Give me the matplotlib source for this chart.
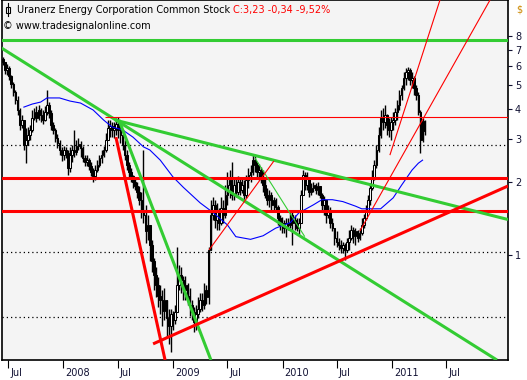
import numpy as np
import pandas as pd
import matplotlib
matplotlib.use("Agg")
import matplotlib.pyplot as plt
import matplotlib.dates as mdates
from matplotlib.patches import Rectangle
from matplotlib.lines import Line2D

# weekly candles, Uranerz Energy (URZ), from mid June 2007
first_week = "2007-06-13"
first_open = 6.45
closes = [
    6.24, 5.79, 5.90, 5.47, 5.07, 4.70, 4.35, 3.96, 3.43, 3.60,
    2.84, 2.98, 3.12, 3.28, 3.67, 3.89, 3.67, 3.96, 3.78, 3.60,
    3.89, 4.15, 3.85, 3.43, 3.28, 3.04, 2.89, 2.71, 2.58, 2.71,
    2.63, 2.28, 2.58, 2.71, 2.65, 2.81, 2.87, 2.76, 2.51, 2.42,
    2.46, 2.33, 2.20, 2.12, 2.24, 2.35, 2.51, 2.58, 2.71, 2.98,
    3.34, 3.40, 3.28, 3.34, 3.47, 3.28, 3.12, 2.84, 2.58, 2.35,
    2.20, 2.12, 2.00, 1.92, 1.82, 1.69, 1.53, 1.46, 1.25, 1.33,
    1.10, 0.94, 0.83, 0.75, 0.68, 0.65, 0.59, 0.65, 0.55, 0.51,
    0.57, 0.54, 0.58, 0.75, 0.83, 0.79, 0.72, 0.75, 0.68, 0.62,
    0.58, 0.53, 0.57, 0.60, 0.65, 0.62, 0.72, 0.67, 1.05, 1.46,
    1.61, 1.39, 1.50, 1.36, 1.56, 1.46, 1.77, 1.94, 2.04, 1.77,
    1.94, 1.82, 2.00, 1.85, 1.94, 1.77, 2.04, 2.14, 2.20, 2.46,
    2.35, 2.20, 2.24, 2.08, 1.94, 1.77, 1.69, 1.77, 1.61, 1.69,
    1.58, 1.42, 1.33, 1.36, 1.29, 1.36, 1.33, 1.46, 1.36, 1.39,
    1.29, 1.36, 1.77, 2.14, 1.94, 2.08, 1.82, 1.88, 1.94, 1.85,
    1.92, 1.77, 1.61, 1.69, 1.46, 1.53, 1.36, 1.29, 1.17, 1.13,
    1.10, 1.07, 1.10, 1.05, 1.13, 1.17, 1.27, 1.20, 1.25, 1.17,
    1.23, 1.33, 1.42, 1.53, 1.69, 1.89, 2.08, 2.35, 2.71, 3.12,
    3.67, 3.53, 3.78, 3.43, 3.28, 3.53, 3.60, 3.89, 4.15, 4.57,
    4.88, 5.36, 5.68, 5.79, 5.27, 5.36, 4.88, 4.57, 3.89, 2.98,
    3.57, 3.23]
highs = [
    6.54, 6.24, 6.13, 6.01, 5.52, 5.17, 4.79, 4.53, 4.04, 3.78,
    3.60, 3.34, 3.37, 3.43, 3.96, 4.04, 4.11, 4.15, 4.04, 3.96,
    4.11, 4.79, 4.27, 3.96, 3.53, 3.34, 3.16, 2.98, 2.79, 2.81,
    2.79, 2.71, 2.79, 2.84, 3.28, 2.98, 3.04, 2.95, 2.81, 2.58,
    2.58, 2.51, 2.42, 2.28, 2.35, 2.46, 2.58, 2.71, 2.81, 3.19,
    3.60, 3.60, 3.53, 3.53, 3.67, 3.70, 3.43, 3.28, 2.98, 2.71,
    2.42, 2.28, 2.14, 2.08, 2.00, 1.92, 1.82, 2.71, 1.61, 1.46,
    1.33, 1.15, 0.97, 0.89, 0.81, 0.75, 0.72, 0.73, 0.63, 0.60,
    0.60, 0.59, 0.62, 1.08, 0.91, 0.89, 0.82, 0.82, 0.77, 0.73,
    0.65, 0.61, 0.62, 0.67, 0.70, 0.70, 0.77, 0.75, 1.08, 1.69,
    1.74, 1.69, 1.64, 1.56, 1.74, 1.69, 1.94, 2.20, 2.24, 2.42,
    2.10, 2.08, 2.12, 2.08, 2.08, 2.04, 2.14, 2.28, 2.35, 2.58,
    2.58, 2.42, 2.37, 2.31, 2.24, 2.08, 1.89, 1.85, 1.82, 1.74,
    1.72, 1.61, 1.46, 1.44, 1.39, 1.42, 1.42, 1.53, 1.50, 1.46,
    1.42, 1.42, 1.85, 2.24, 2.20, 2.20, 2.04, 1.98, 2.00, 1.98,
    2.00, 1.92, 1.80, 1.75, 1.69, 1.61, 1.58, 1.42, 1.29, 1.25,
    1.17, 1.15, 1.13, 1.12, 1.17, 1.27, 1.33, 1.30, 1.29, 1.27,
    1.29, 1.42, 1.47, 1.61, 1.77, 1.98, 2.24, 2.46, 2.84, 3.37,
    3.96, 4.04, 4.15, 3.82, 3.67, 3.70, 3.89, 4.04, 4.35, 4.79,
    5.02, 5.68, 5.90, 5.96, 5.90, 5.68, 5.47, 5.02, 4.70, 3.96,
    3.67, 3.60]
lows = [
    6.07, 5.57, 5.52, 5.27, 4.88, 4.53, 4.19, 3.78, 3.28, 3.34,
    2.71, 2.39, 2.84, 2.98, 3.22, 3.60, 3.53, 3.60, 3.53, 3.47,
    3.57, 3.78, 3.67, 3.28, 3.16, 2.92, 2.76, 2.58, 2.44, 2.46,
    2.51, 2.14, 2.20, 2.42, 2.53, 2.58, 2.71, 2.53, 2.42, 2.33,
    2.33, 2.24, 2.12, 2.00, 2.04, 2.20, 2.31, 2.39, 2.53, 2.66,
    2.98, 3.06, 3.06, 3.04, 3.12, 3.04, 2.89, 2.71, 2.46, 2.24,
    2.08, 2.00, 1.89, 1.85, 1.72, 1.60, 1.42, 1.36, 1.12, 1.15,
    0.94, 0.85, 0.72, 0.67, 0.61, 0.57, 0.51, 0.54, 0.46, 0.43,
    0.40, 0.49, 0.52, 0.58, 0.72, 0.70, 0.65, 0.65, 0.62, 0.56,
    0.54, 0.48, 0.49, 0.55, 0.58, 0.59, 0.60, 0.63, 0.63, 1.05,
    1.39, 1.29, 1.27, 1.27, 1.33, 1.36, 1.42, 1.61, 1.72, 1.69,
    1.69, 1.74, 1.77, 1.77, 1.80, 1.69, 1.72, 1.89, 2.00, 2.14,
    2.20, 2.10, 2.04, 1.98, 1.82, 1.72, 1.61, 1.58, 1.53, 1.53,
    1.50, 1.33, 1.27, 1.23, 1.23, 1.19, 1.27, 1.29, 1.10, 1.27,
    1.25, 1.21, 1.36, 1.77, 1.85, 1.85, 1.74, 1.77, 1.82, 1.78,
    1.77, 1.72, 1.53, 1.46, 1.35, 1.42, 1.29, 1.25, 1.10, 1.08,
    1.05, 1.02, 1.02, 0.95, 1.03, 1.05, 1.15, 1.12, 1.10, 1.13,
    1.15, 1.21, 1.29, 1.39, 1.53, 1.61, 1.85, 2.04, 2.28, 2.66,
    3.04, 3.28, 3.34, 3.12, 3.06, 2.98, 3.28, 3.43, 3.60, 3.96,
    4.35, 4.79, 5.02, 5.27, 5.02, 4.88, 4.57, 4.35, 3.78, 2.63,
    2.92, 3.12]

# moving average (blue), read at some candle weeks
ma_week = [10, 14, 18, 21, 27, 32, 37, 43, 48, 52, 57, 62, 67, 70, 75, 81, 86, 94, 100,
           107, 111, 118, 124, 130, 137, 141, 148, 152, 157, 162, 168, 171, 180, 186,
           190, 195, 198, 200]
ma_vals = [4.07, 4.19, 4.27, 4.44, 4.44, 4.31, 4.23, 3.96, 3.60, 3.37, 3.28, 3.06, 2.79,
           2.71, 2.46, 2.10, 1.90, 1.64, 1.50, 1.33, 1.19, 1.16, 1.20, 1.29, 1.36, 1.49,
           1.61, 1.69, 1.69, 1.66, 1.59, 1.55, 1.55, 1.72, 1.94, 2.24, 2.39, 2.46]

# drawn analysis lines: (start date, start price, end date, end price)
green_thick = [("2007-06-03", 7.20, "2011-12-17", 0.369),
               ("2008-06-21", 3.60, "2012-01-23", 1.40),
               ("2008-07-04", 3.60, "2009-05-07", 0.369)]
green_thin = [("2009-10-01", 2.51, "2010-03-16", 1.19)]
red_thick = [("2008-06-24", 3.06, "2008-12-05", 0.369),
             ("2008-10-26", 0.430, "2012-01-23", 1.925)]
red_thin = [("2008-05-18", 3.71, "2012-01-23", 3.71),
            ("2009-05-01", 1.05, "2009-12-03", 2.44),
            ("2010-09-16", 1.256, "2011-11-24", 11.25),
            ("2010-12-25", 2.58, "2011-06-10", 11.25)]
green_levels = [7.70]
red_levels = [2.08, 1.52]
dotted_levels = [2.84, 1.03, 0.555]

y_ticks = [1, 2, 3, 4, 5, 6, 7, 8]
x_ticks = ["2007-07-01", "2008-01-01", "2008-07-01", "2009-01-01", "2009-07-01",
           "2010-01-01", "2010-07-01", "2011-01-01", "2011-07-01"]
x_labels = ["Jul", "2008", "Jul", "2009", "Jul", "2010", "Jul", "2011", "Jul"]

GREEN = "#33cc33"
TXT = "#111133"
W, H = 527, 380

fig = plt.figure(figsize=(W / 100, H / 100), dpi=100)
fig.patch.set_facecolor("white")
ax = fig.add_axes([2 / W, 20 / H, 506 / W, 360 / H])
ax.set_facecolor("#f4f4f4")
ax.set_yscale("log")
ax.set_ylim(0.369, 11.25)
ax.set_xlim(mdates.date2num(pd.Timestamp("2007-06-10")), mdates.date2num(pd.Timestamp("2012-01-23")))

dates = pd.date_range(first_week, periods=len(closes), freq="7D")
xs = mdates.date2num(dates)
c = np.array(closes)
o = np.array([first_open] + closes[:-1])
hi = np.maximum(np.array(highs), np.maximum(o, c))
lo = np.minimum(np.array(lows), np.minimum(o, c))

for val in dotted_levels:
    ax.axhline(val, color="black", lw=0.9, ls=(0, (1, 2.4)), zorder=1)

ax.vlines(xs, lo, hi, color="black", lw=1.0, zorder=3)
up = c >= o
ax.bar(xs[up], (c - o)[up], bottom=o[up], width=5.4, color="white", edgecolor="black", lw=0.75, zorder=4)
ax.bar(xs[~up], (o - c)[~up], bottom=c[~up], width=5.4, color="black", edgecolor="black", lw=0.75, zorder=4)

ax.plot(xs[ma_week], ma_vals, color="#0000ff", lw=0.8, zorder=5)


def draw_lines(lines, color, lw):
    for d0, p0, d1, p1 in lines:
        ax.plot([pd.Timestamp(d0), pd.Timestamp(d1)], [p0, p1], color=color, lw=lw,
                solid_capstyle="butt", zorder=6)


for val in green_levels:
    ax.axhline(val, color=GREEN, lw=2.2, zorder=6)
for val in red_levels:
    ax.axhline(val, color="red", lw=2.2, zorder=6)
draw_lines(green_thick, GREEN, 2.2)
draw_lines(green_thin, GREEN, 0.8)
draw_lines(red_thick, "red", 2.2)
draw_lines(red_thin, "red", 0.8)

# axes
for s in ax.spines.values():
    s.set_color("black")
    s.set_linewidth(1.2)
ax.yaxis.tick_right()
ax.set_yticks(y_ticks)
ax.set_yticklabels([str(v) for v in y_ticks])
ax.yaxis.set_minor_locator(matplotlib.ticker.NullLocator())
ax.tick_params(axis="y", which="major", direction="out", length=3, width=0.8, pad=2,
               labelsize=7, colors=TXT)
ax.set_xticks([mdates.date2num(pd.Timestamp(d)) for d in x_ticks])
ax.set_xticklabels([])
ax.tick_params(axis="x", direction="out", length=6, width=0.8)
for d, lab in zip(x_ticks, x_labels):
    ax.text(mdates.date2num(pd.Timestamp(d)) + 6, -0.036, lab, transform=ax.get_xaxis_transform(),
            ha="left", va="center", fontsize=7, color=TXT)

# header
fig.add_artist(Line2D([7.5 / W, 7.5 / W], [1 - 3 / H, 1 - 16 / H], color="black", lw=0.8,
                      transform=fig.transFigure))
fig.add_artist(Rectangle((5.5 / W, 1 - 13 / H), 4 / W, 6 / H, facecolor="white",
                         edgecolor="black", lw=0.8, transform=fig.transFigure))
t1 = fig.text(17 / W, 1 - 10 / H, "Uranerz Energy Corporation Common Stock ", fontsize=7,
              va="center", ha="left", color="black")
ax.annotate("C:3,23 -0,34 -9,52%", xy=(1, 0.5), xycoords=t1, va="center", ha="left",
            fontsize=7, color="red")
fig.text(3 / W, 1 - 26 / H, "\u00a9 www.tradesignalonline.com", fontsize=7, va="center",
         ha="left", color="black")
fig.text(516 / W, 1 - 10 / H, "$", fontsize=7, va="center", ha="left", color="#cc8800")

fig.savefig("out.png", dpi=100)
